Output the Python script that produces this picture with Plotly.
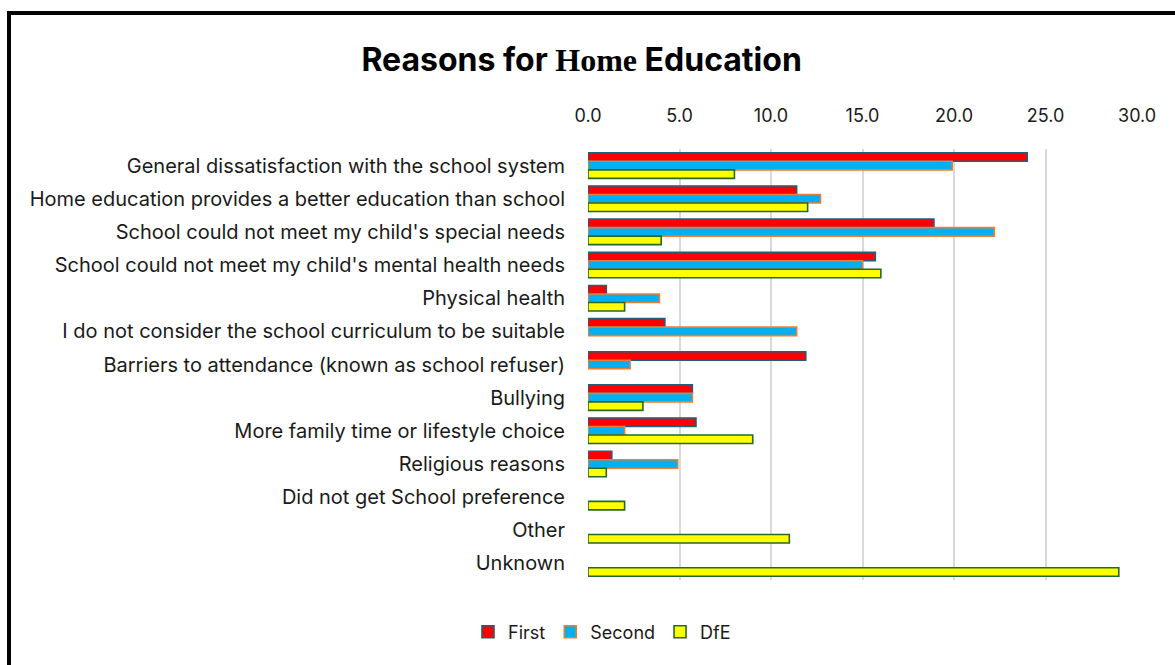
import plotly.graph_objects as go

# Reasons given for home education (percent of responses)
categories = [
    "General dissatisfaction with the school system",
    "Home education provides a better education than school",
    "School could not meet my child's special needs",
    "School could not meet my child's mental health needs",
    "Physical health",
    "I do not consider the school curriculum to be suitable",
    "Barriers to attendance (known as school refuser)",
    "Bullying",
    "More family time or lifestyle choice",
    "Religious reasons",
    "Did not get School preference",
    "Other",
    "Unknown",
]
first = [24.0, 11.4, 18.9, 15.7, 1.0, 4.2, 11.9, 5.7, 5.9, 1.3, None, None, None]
second = [19.9, 12.7, 22.2, 15.0, 3.9, 11.4, 2.3, 5.7, 2.0, 4.9, None, None, None]
dfe = [8.0, 12.0, 4.0, 16.0, 2.0, None, None, 3.0, 9.0, 1.0, 2.0, 11.0, 29.0]

x_ticks = [0, 5, 10, 15, 20, 25, 30]

W, H = 1175, 665
ML, MR, MT, MB = 588, 37, 149, 85
FONT = "Inter, Roboto, Arial, sans-serif"

series = [
    ("First", first, "#FF0000", "#1F5F7F"),
    ("Second", second, "#00B0F0", "#ED7D31"),
    ("DfE", dfe, "#FFFF00", "#22692B"),
]

fig = go.Figure()
for name, vals, fill, edge in series:
    fig.add_trace(go.Bar(
        name=name, y=categories, x=vals, orientation="h",
        marker=dict(color=fill, line=dict(color=edge, width=1.6)),
        hoverinfo="x+y",
    ))

# pixel -> paper helpers for the outer frame
pw, ph = W - ML - MR, H - MT - MB
def px_x(p):
    return (p - ML) / pw
def px_y(p):
    return (H - MB - p) / ph

fig.add_shape(type="line", xref="paper", yref="paper",
              x0=px_x(9), x1=px_x(1180), y0=px_y(13), y1=px_y(13),
              line=dict(color="black", width=4))
fig.add_shape(type="line", xref="paper", yref="paper",
              x0=px_x(9), x1=px_x(9), y0=px_y(11), y1=px_y(680),
              line=dict(color="black", width=4))

fig.update_layout(
    width=W, height=H,
    margin=dict(l=ML, r=MR, t=MT, b=MB),
    paper_bgcolor="white", plot_bgcolor="white",
    barmode="group", bargap=0.23, bargroupgap=0,
    font=dict(family=FONT, size=20, color="#1a1a1a"),
    title=dict(
        text="<b>Reasons for <span style=\"font-family:'Liberation Serif', serif\">Home</span> Education</b>",
        x=0.495, xanchor="center", y=1 - 60 / H, yanchor="middle",
        font=dict(family=FONT, size=32, color="black"),
    ),
    xaxis=dict(
        side="top", range=[0, 30.05], tickvals=x_ticks,
        ticktext=[f"{v:.1f}" for v in x_ticks],
        showgrid=True, gridcolor="#D9D9D9", gridwidth=1.5,
        zeroline=False, showline=False, ticks="",
        tickfont=dict(size=18, color="#1a1a1a"),
        ticklabelstandoff=22, fixedrange=True,
    ),
    yaxis=dict(
        autorange="reversed", showgrid=False, showline=False, ticks="",
        tickfont=dict(size=20, color="#1a1a1a"),
        ticklabelstandoff=22, fixedrange=True,
    ),
    legend=dict(
        orientation="h", x=px_x(602), xanchor="center",
        y=px_y(632), yanchor="middle",
        font=dict(size=18, color="#1a1a1a"),
        itemwidth=30, traceorder="normal",
    ),
)

fig.write_html("out.html")
